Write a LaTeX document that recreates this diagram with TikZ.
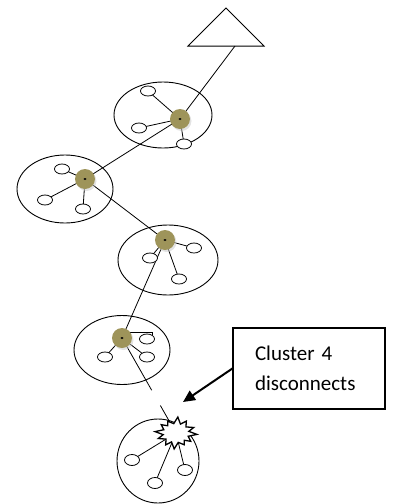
\documentclass[tikz,border=0pt]{standalone}
\usepackage{fontspec}
\newfontfamily\calib{Carlito}
\usetikzlibrary{shapes.geometric,arrows.meta,shadows,calc}
\definecolor{hubcol}{RGB}{158,148,90}
\pgfdeclarelayer{bg}
\pgfsetlayers{bg,main}
\begin{document}
\begin{tikzpicture}[x=1pt,y=-1pt,
  big/.style={draw, line width=0.9pt, ellipse, inner sep=0},
  sm/.style={draw, ellipse, fill=white, line width=0.8pt, minimum width=15pt, minimum height=10pt, inner sep=0},
  hub/.style={circle, fill=hubcol, minimum size=20pt, inner sep=0,
    drop shadow={shadow xshift=1.5pt, shadow yshift=-2pt, fill=black!22}},
  ln/.style={line width=0.8pt},
  burst/.style={draw, fill=white, line width=1.3pt, line join=miter}]
\useasboundingbox (0,0) rectangle (393,504);

% triangle
\coordinate (ta) at (226,8);
\coordinate (tl) at (188,46);
\coordinate (tr) at (264,46);
\coordinate (tb) at (235,46);
\draw[line width=1pt] (ta) -- (tl) -- (tr) -- cycle;

% cluster outlines
\node[big, minimum width=98pt, minimum height=66pt] (e1) at (163,115) {};
\node[big, minimum width=96pt, minimum height=68pt] (e2) at (65,189) {};
\node[big, minimum width=100pt, minimum height=70pt] (e3) at (168,260) {};
\node[big, minimum width=96pt, minimum height=69pt] (e4) at (122,350) {};
\node[big, minimum width=82pt, minimum height=84pt] (e5) at (158,461) {};

% hubs
\node[hub] (h1) at (180,119) {};
\node[hub] (h2) at (85,179) {};
\node[hub] (h3) at (165,240) {};
\node[hub] (h4) at (122,338) {};
\foreach \h in {h1,h2,h3,h4} {\fill (\h) ellipse (1.6 and 1);}

% small circles
\node[sm] (c1a) at (148,91) {};
\node[sm] (c1b) at (139,128) {};
\node[sm] (c1c) at (184,144) {};
\node[sm] (c2a) at (62,169) {};
\node[sm] (c2b) at (45,200) {};
\node[sm] (c2c) at (83,209) {};
\node[sm] (c3a) at (150,258) {};
\node[sm] (c3b) at (194,248) {};
\node[sm] (c3c) at (179,279) {};
\node[sm] (c4a) at (147,339) {};
\node[sm] (c4b) at (105,357) {};
\node[sm] (c4c) at (147,357) {};
\node[sm, minimum height=11pt] (c5a) at (132,460) {};
\node[sm, minimum height=11pt] (c5b) at (185,470) {};
\node[sm, minimum height=11pt] (c5c) at (155,483) {};

% broken cluster hub (starburst)
\coordinate (b5) at (176,433);
\draw[burst] plot[samples=25, domain=0:24]
  ({176 + (mod(\x,2)==0 ? (21 - 1.5*mod(\x*7,3)) : 13)*cos(\x*15 + 5)},
   {433 + (mod(\x,2)==0 ? (16 - 1.5*mod(\x*5,3)) : 9.5)*sin(\x*15 + 5)}) -- cycle;

% connectors
\begin{pgfonlayer}{bg}
\draw[ln] (tb) -- (h1.center);
\draw[ln] (h1.center) -- (c1a.center);
\draw[ln] (h1.center) -- (c1b.center);
\draw[ln] (h1.center) -- (c1c.center);
\draw[ln] (h1.center) -- (h2.center);
\draw[ln] (c2a.center) -- (h2.center);
\draw[ln] (h2.center) -- (c2b.center);
\draw[ln] (h2.center) -- (c2c.center);
\draw[ln] (h2.center) -- (h3.center);
\draw[ln] (h3.center) -- (c3a.center);
\draw[ln] (h3.center) -- (c3b.center);
\draw[ln] (h3.center) -- (c3c.center);
\draw[ln] (h3.center) -- (h4.center);
\draw[ln] (h4.center) ++(0,-6) -| (c4a.north east);
\draw[ln] (h4.center) -- (c4b.center);
\draw[ln] (h4.center) -- (c4c.center);
\coordinate (g1) at ($(h4)!0.55!(b5)$);
\coordinate (g2) at ($(h4)!0.71!(b5)$);
\draw[ln] (h4.center) -- (g1);
\draw[ln] (g2) -- (b5);
\draw[ln] (b5) -- (c5a.center);
\draw[ln] (b5) -- (c5b.center);
\draw[ln] (b5) -- (c5c.center);
\end{pgfonlayer}

% callout
\node[draw, line width=1.2pt, minimum width=152pt, minimum height=81pt, text width=108pt,
  inner xsep=0, align=left, font=\calib\fontsize{21}{30}\selectfont] (box) at (309,368.5)
  {Cluster 4\\disconnects};
\coordinate (tip) at (183,402);
\draw[line width=2pt, -{Triangle[length=12pt,width=11pt]}] (box.west) -- (tip);
\end{tikzpicture}
\end{document}
